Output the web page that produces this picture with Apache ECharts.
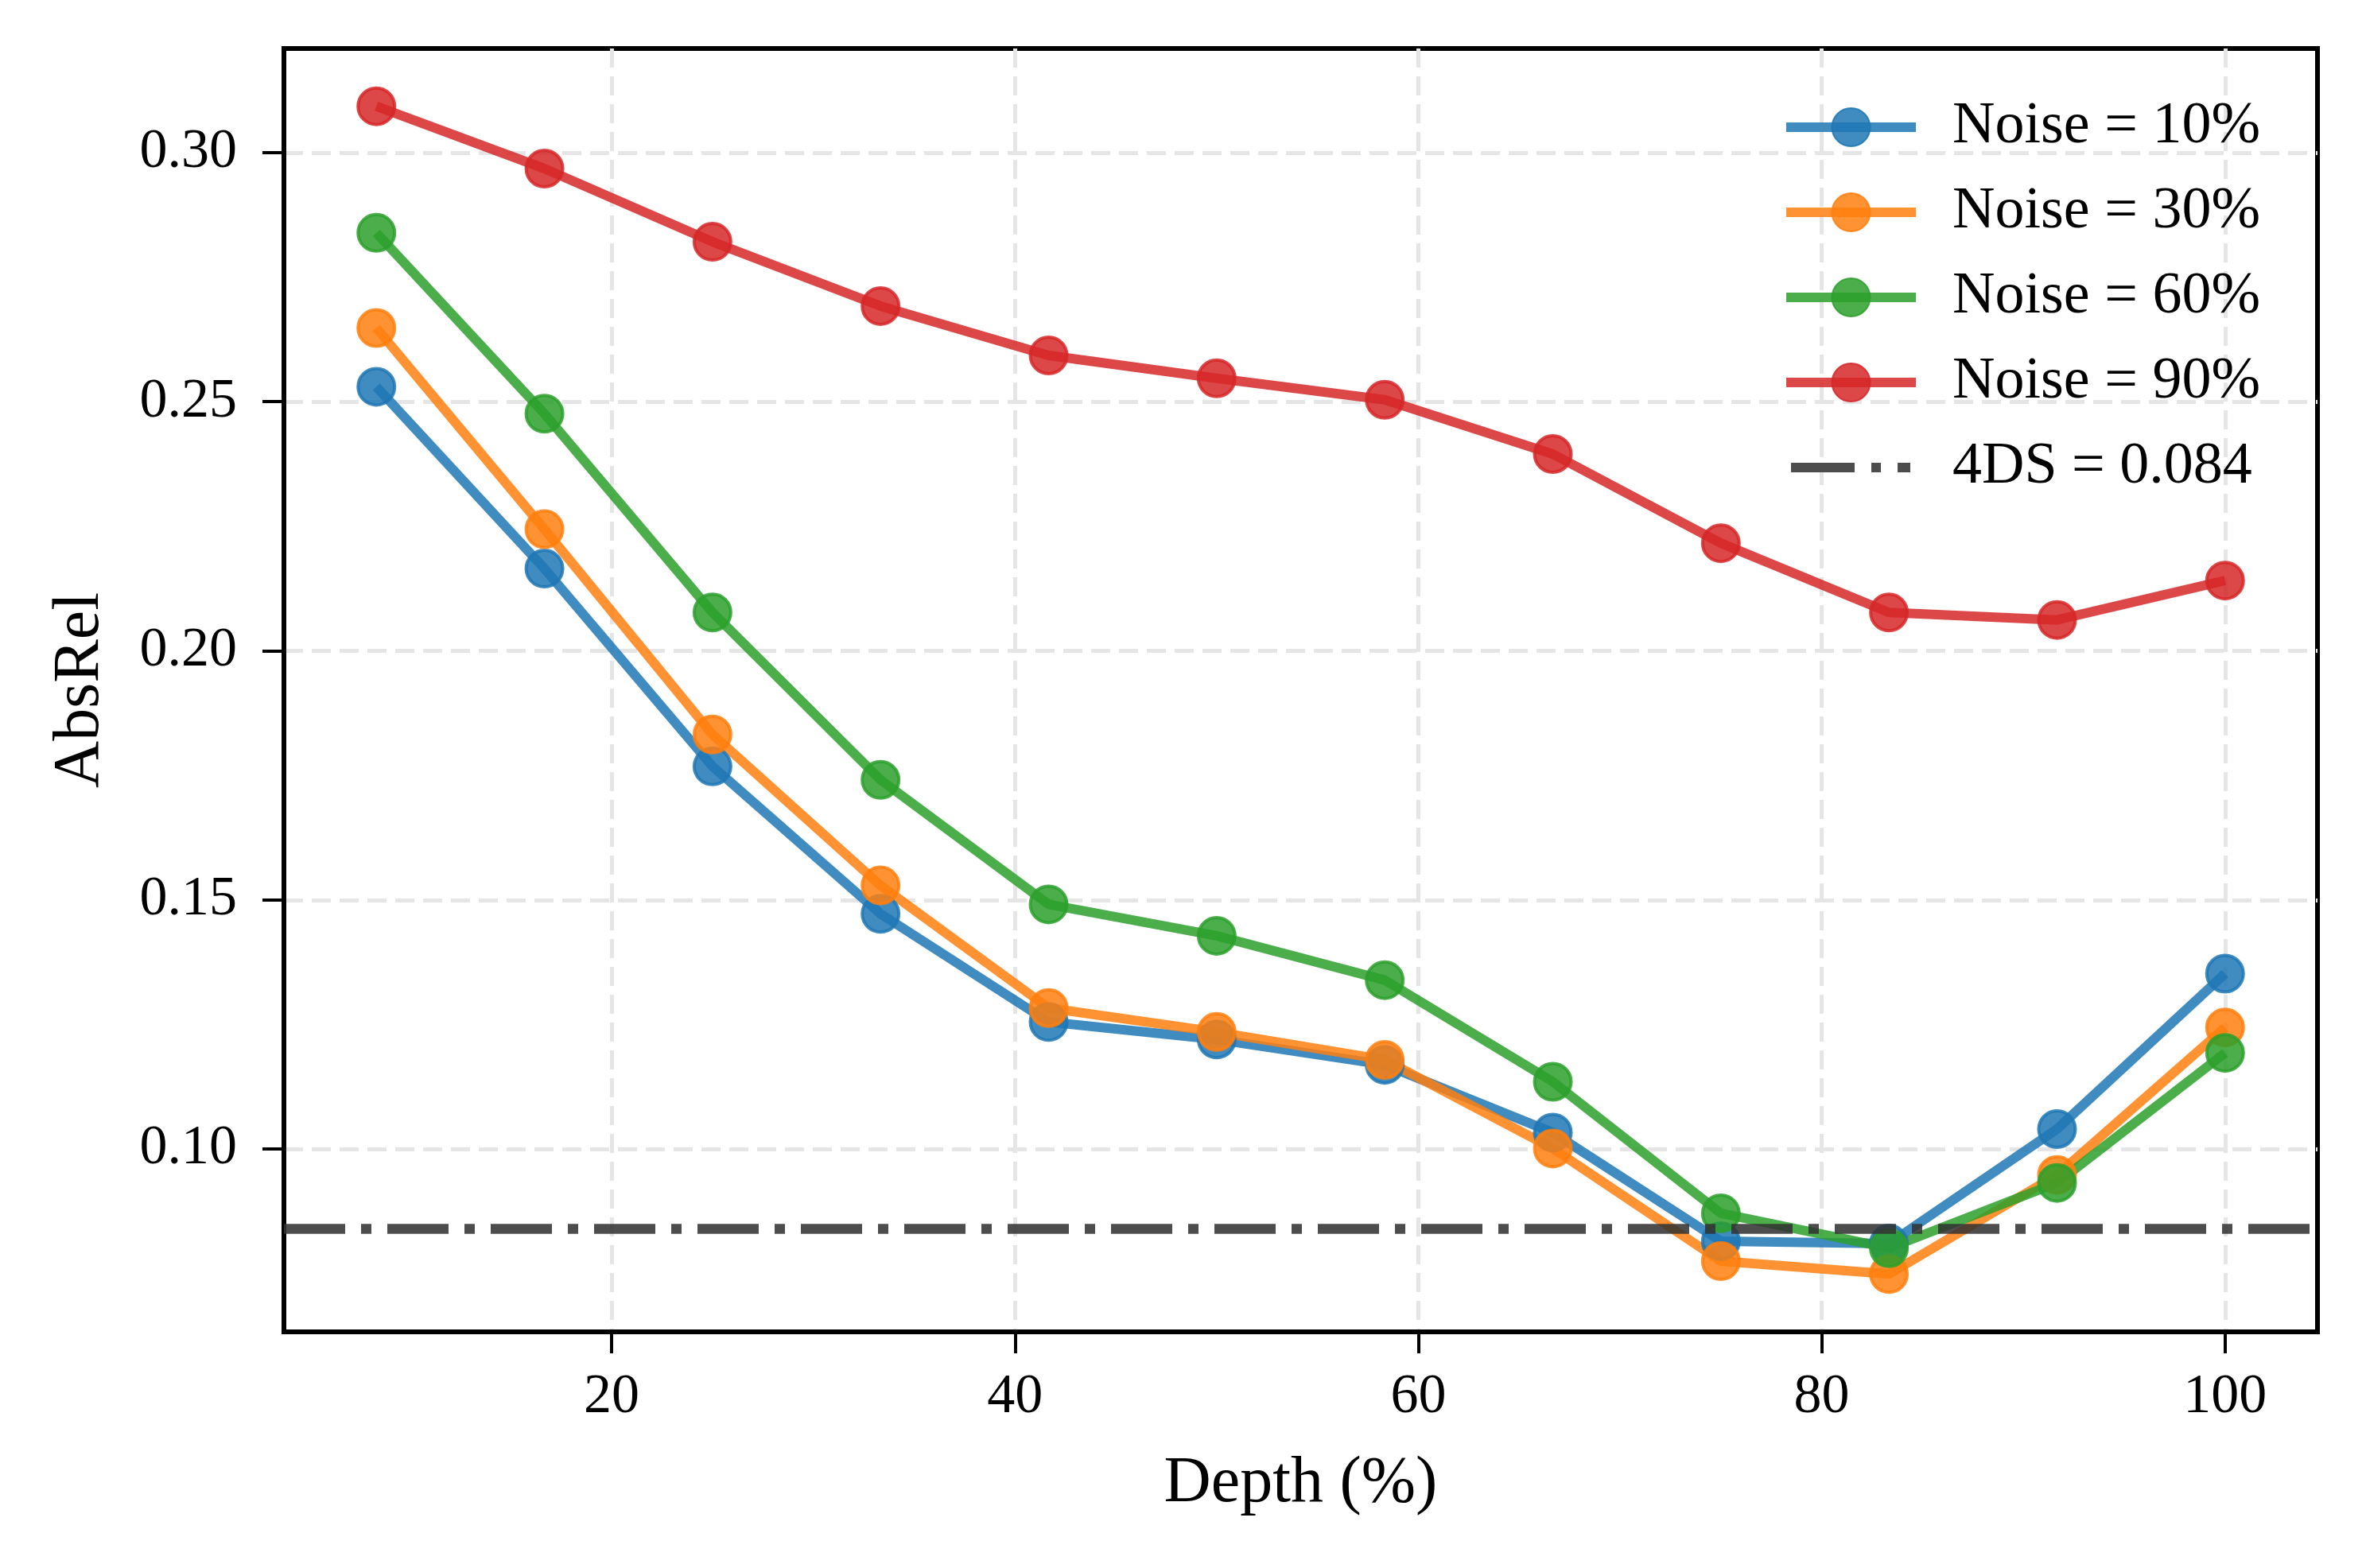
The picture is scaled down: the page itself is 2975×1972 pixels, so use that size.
<!DOCTYPE html>
<html>
<head>
<meta charset="utf-8">
<title>AbsRel vs Depth</title>
<script src="https://cdn.jsdelivr.net/npm/echarts@6.0.0/dist/echarts.min.js"></script>
<style>
  html, body { margin: 0; padding: 0; background: #fff; }
  #main { width: 2975px; height: 1972px; }
</style>
</head>
<body>
<div id="main"></div>
<script>
// x: depth (%), y: AbsRel per noise level
var depth = [8.333, 16.667, 25, 33.333, 41.667, 50, 58.333, 66.667, 75, 83.333, 91.667, 100];
var noise10 = [0.2530, 0.2165, 0.1768, 0.1472, 0.1255, 0.1220, 0.1169, 0.1033, 0.0815, 0.0810, 0.1040, 0.1352];
var noise30 = [0.2648, 0.2244, 0.1832, 0.1529, 0.1283, 0.1235, 0.1179, 0.1001, 0.0775, 0.0749, 0.0948, 0.1244];
var noise60 = [0.2839, 0.2476, 0.2077, 0.1741, 0.1491, 0.1428, 0.1339, 0.1135, 0.0871, 0.0801, 0.0932, 0.1193];
var noise90 = [0.3093, 0.2968, 0.2821, 0.2692, 0.2593, 0.2547, 0.2504, 0.2395, 0.2216, 0.2077, 0.2062, 0.2141];
var seriesNames = ["Noise = 10%", "Noise = 30%", "Noise = 60%", "Noise = 90%"];
var seriesColors = ["#1f77b4", "#ff7f0e", "#2ca02c", "#d62728"];
var baselineName = "4DS = 0.084";
var baselineValue = 0.084;
var xTicks = [20, 40, 60, 80, 100];
var yTicks = [0.10, 0.15, 0.20, 0.25, 0.30];

var chart = echarts.init(document.getElementById("main"));
var font = "'Liberation Serif', 'Times New Roman', serif";
var dashDot = [77, 20, 13, 20];

function makeLine(name, values, color) {
  return {
    name: name,
    type: "line",
    data: depth.map(function (d, i) { return [d, values[i]]; }),
    symbol: "circle",
    symbolSize: 46,
    lineStyle: { width: 12, color: color, opacity: 0.85 },
    itemStyle: { color: color, opacity: 0.85, borderColor: color, borderWidth: 4 },
    emphasis: { disabled: true },
    animation: false
  };
}

var series = [
  makeLine(seriesNames[0], noise10, seriesColors[0]),
  makeLine(seriesNames[1], noise30, seriesColors[1]),
  makeLine(seriesNames[2], noise60, seriesColors[2]),
  makeLine(seriesNames[3], noise90, seriesColors[3]),
  {
    name: baselineName,
    type: "line",
    data: [],
    symbol: "none",
    z: 10,
    lineStyle: { width: 12.5, color: "#333333", opacity: 0.87, type: dashDot },
    itemStyle: { color: "#4d4d4d" },
    markLine: {
      silent: true,
      precision: 4,
      symbol: ["none", "none"],
      label: { show: false },
      lineStyle: { width: 12.5, color: "#333333", opacity: 0.87, type: dashDot },
      data: [{ yAxis: baselineValue }]
    },
    animation: false
  }
];

// legend entries: line + marker for data, dash-dot glyph for the reference line
var legendData = seriesNames.map(function (n) {
  return { name: n, lineStyle: { width: 12, opacity: 0.85 } };
});
legendData.push({
  name: baselineName,
  icon: "path://M0,0L0.1,0L0,0.1Z M6,24H86V36H6Z M107,24H119V36H107Z M140,24H156V36H140Z M163,60L162.9,60L163,59.9Z",
  itemStyle: { color: "#4d4d4d", opacity: 1 }
});

var option = {
  backgroundColor: "#ffffff",
  textStyle: { fontFamily: font },
  grid: {
    left: 357, top: 61, width: 2557, height: 1614,
    show: true, borderColor: "#000", borderWidth: 6, containLabel: false
  },
  legend: {
    orient: "vertical",
    left: 2240,
    top: 123,
    padding: 0,
    itemWidth: 163,
    itemHeight: 60,
    itemGap: 33,
    data: legendData,
    textStyle: { fontFamily: font, fontSize: 74, lineHeight: 60, color: "#000", padding: [0, 0, 0, 41] }
  },
  xAxis: {
    type: "value",
    min: 3.75,
    max: 104.583,
    name: "Depth (%)",
    nameLocation: "middle",
    nameGap: 150,
    nameTextStyle: { fontFamily: font, fontSize: 82, color: "#000" },
    axisLine: { show: true, onZero: false, lineStyle: { color: "#000", width: 6 } },
    axisTick: { show: true, inside: false, length: 27, lineStyle: { color: "#000", width: 4 }, customValues: xTicks },
    axisLabel: { fontFamily: font, fontSize: 70, color: "#000", margin: 48, customValues: xTicks },
    splitLine: { show: true, lineStyle: { color: "#e5e5e5", width: 5, type: [24, 11] } }
  },
  yAxis: {
    type: "value",
    min: 0.0633,
    max: 0.3209,
    name: "AbsRel",
    nameLocation: "middle",
    nameGap: 215,
    nameTextStyle: { fontFamily: font, fontSize: 82, color: "#000" },
    axisLine: { show: true, onZero: false, lineStyle: { color: "#000", width: 6 } },
    axisTick: { show: true, inside: false, length: 27, lineStyle: { color: "#000", width: 4 }, customValues: yTicks },
    axisLabel: {
      fontFamily: font, fontSize: 70, color: "#000", margin: 59, customValues: yTicks,
      formatter: function (v) { return v.toFixed(2); }
    },
    splitLine: { show: true, lineStyle: { color: "#e5e5e5", width: 5, type: [24, 11] } }
  },
  series: series
};

chart.setOption(option);
</script>
</body>
</html>
